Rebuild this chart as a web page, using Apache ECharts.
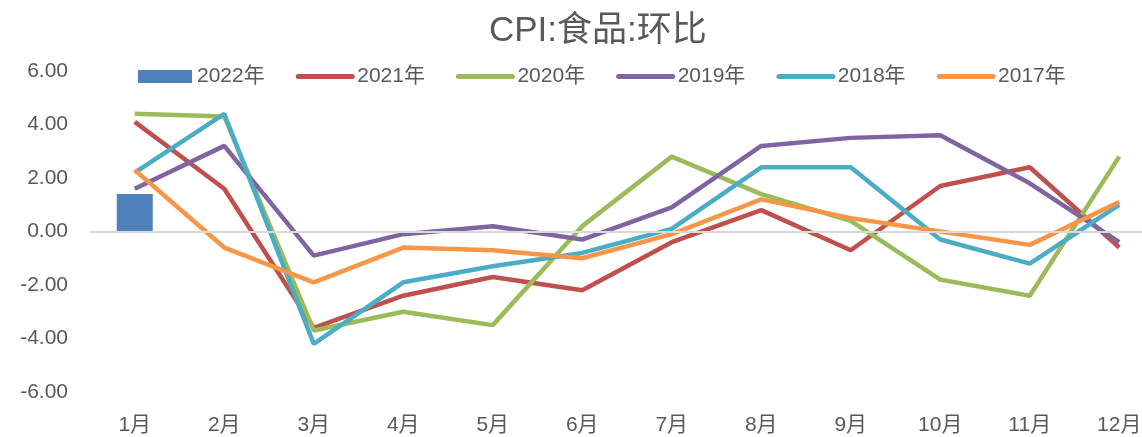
<!DOCTYPE html>
<html>
<head>
<meta charset="utf-8">
<script src="https://cdn.jsdelivr.net/npm/echarts@6/dist/echarts.min.js"></script>
<style>
  html, body { margin: 0; padding: 0; background: #fff; }
  #chart { width: 1142px; height: 437px; }
</style>
</head>
<body>
<div id="chart"></div>
<script>
// 数据
var months = ['1月', '2月', '3月', '4月', '5月', '6月', '7月', '8月', '9月', '10月', '11月', '12月']
var yTicks = [-6, -4, -2, 0, 2, 4, 6]
var y2022 = [1.4]
var y2021 = [4.1, 1.6, -3.6, -2.4, -1.7, -2.2, -0.4, 0.8, -0.7, 1.7, 2.4, -0.6]
var y2020 = [4.4, 4.3, -3.7, -3.0, -3.5, 0.2, 2.8, 1.4, 0.4, -1.8, -2.4, 2.8]
var y2019 = [1.6, 3.2, -0.9, -0.1, 0.2, -0.3, 0.9, 3.2, 3.5, 3.6, 1.8, -0.4]
var y2018 = [2.2, 4.4, -4.2, -1.9, -1.3, -0.8, 0.1, 2.4, 2.4, -0.3, -1.2, 1.0]
var y2017 = [2.3, -0.6, -1.9, -0.6, -0.7, -1.0, -0.1, 1.2, 0.5, 0.0, -0.5, 1.1]

var textColor = '#595959'
var font = 'Liberation Sans, Noto Sans CJK SC, sans-serif'

function line(name, data, color) {
  return {
    name: name,
    type: 'line',
    data: data,
    symbol: 'none',
    smooth: false,
    itemStyle: { color: color },
    lineStyle: { color: color, width: 4.5 },
    z: 3
  }
}

// 图例里的线不要圆点
function lineLegend(name) {
  return { name: name, itemStyle: { opacity: 0 } }
}

var chart = echarts.init(document.getElementById('chart'))

var option = {
  animation: false,
  title: {
    text: 'CPI:食品:环比',
    left: 484,
    top: 9,
    textStyle: { color: textColor, fontSize: 35, fontWeight: 'normal', fontFamily: font }
  },
  legend: {
    left: 133,
    top: 61,
    itemWidth: 54,
    itemHeight: 13,
    itemGap: 31,
    lineStyle: { width: 5, cap: 'round' },
    textStyle: { color: textColor, fontSize: 21, fontFamily: font },
    data: [
      { name: '2022年', icon: 'rect' },
      lineLegend('2021年'),
      lineLegend('2020年'),
      lineLegend('2019年'),
      lineLegend('2018年'),
      lineLegend('2017年')
    ]
  },
  grid: { left: 90, width: 1074, top: 71, bottom: 45, outerBoundsMode: 'none', containLabel: false },
  xAxis: {
    type: 'category',
    data: months,
    axisLine: { show: false, onZero: false },
    axisTick: { show: false },
    axisLabel: { color: textColor, fontSize: 21, fontFamily: font, margin: 23 }
  },
  yAxis: {
    type: 'value',
    min: yTicks[0],
    max: yTicks[yTicks.length - 1],
    interval: 2,
    splitLine: { show: false },
    axisLine: { show: false },
    axisTick: { show: false },
    axisLabel: {
      color: textColor, fontSize: 21, fontFamily: font, margin: 22,
      formatter: function (v) { return v.toFixed(2) }
    }
  },
  series: [
    {
      name: '2022年',
      type: 'bar',
      data: y2022,
      barWidth: 36,
      itemStyle: { color: '#4F81BD' },
      z: 2,
      markLine: {
        silent: true,
        symbol: 'none',
        label: { show: false },
        lineStyle: { color: '#D9D9D9', width: 2, type: 'solid' },
        data: [{ yAxis: 0 }]
      }
    },
    line('2021年', y2021, '#C0504D'),
    line('2020年', y2020, '#9BBB59'),
    line('2019年', y2019, '#8064A2'),
    line('2018年', y2018, '#4BACC6'),
    line('2017年', y2017, '#F79646')
  ]
}
chart.setOption(option)
</script>
</body>
</html>
